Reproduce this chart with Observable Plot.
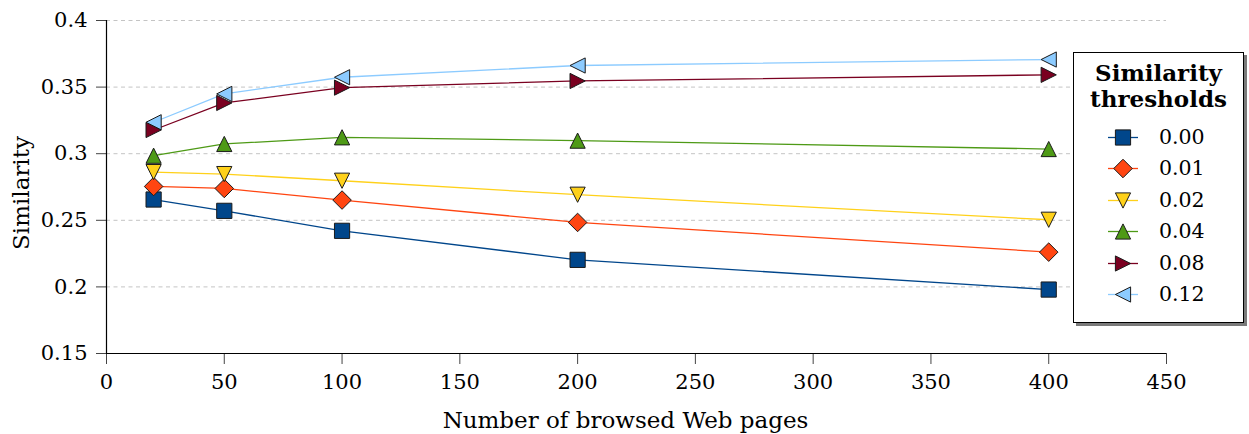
<!DOCTYPE html>
<html><head><meta charset="utf-8">
<script src="https://cdn.jsdelivr.net/npm/d3@7"></script>
<script src="https://cdn.jsdelivr.net/npm/@observablehq/plot@0.6"></script>
<style>
body{margin:0;background:#fff;}
#wrap{position:relative;width:1249px;height:434px;}
#legend{position:absolute;left:1073px;top:52px;width:171px;height:271px;box-sizing:border-box;border:1px solid #000;background:#fff;box-shadow:3px 3px 0 #7a7a7a;font-family:"DejaVu Serif",serif;}
#legend .title{font-weight:bold;font-size:23px;line-height:26px;text-align:center;margin-top:7px;}
#legend .row{position:absolute;left:0;height:31px;width:100%;}
#legend .row svg{position:absolute;left:32px;top:0;}
#legend .row span{position:absolute;left:85px;top:3px;font-size:20.5px;line-height:24px;}
</style></head><body><div id="wrap"></div>
<script>
const pages = [20, 50, 100, 200, 400];
const thresholds = ["0.00", "0.01", "0.02", "0.04", "0.08", "0.12"];
const sim000 = [0.2656, 0.2571, 0.2421, 0.2203, 0.1980];
const sim001 = [0.2754, 0.2739, 0.2652, 0.2484, 0.2261];
const sim002 = [0.2862, 0.2847, 0.2797, 0.2692, 0.2504];
const sim004 = [0.2985, 0.3073, 0.3123, 0.3098, 0.3035];
const sim008 = [0.3178, 0.3381, 0.3496, 0.3546, 0.3592];
const sim012 = [0.3236, 0.3449, 0.3574, 0.3662, 0.3707];
const xTicks = [0, 50, 100, 150, 200, 250, 300, 350, 400, 450];
const yTicks = [0.15, 0.2, 0.25, 0.3, 0.35, 0.4];
const colors = ["#00468b", "#ff4511", "#ffd11a", "#4e9a16", "#7a0020", "#8ccbff"];

const series = [sim000, sim001, sim002, sim004, sim008, sim012];
const data = [];
series.forEach((vals, i) => vals.forEach((v, j) => data.push({pages: pages[j], threshold: thresholds[i], similarity: v})));

const R = (size) => Math.sqrt(size / Math.PI);
const square = {draw(c, s){const r = R(s); c.moveTo(-r,-r); c.lineTo(r,-r); c.lineTo(r,r); c.lineTo(-r,r); c.closePath();}};
const diamond = {draw(c, s){const r = R(s)*1.22; c.moveTo(0,-r); c.lineTo(r,0); c.lineTo(0,r); c.lineTo(-r,0); c.closePath();}};
const triDown = {draw(c, s){const r = R(s); c.moveTo(-r,-r); c.lineTo(r,-r); c.lineTo(0,r); c.closePath();}};
const triUp = {draw(c, s){const r = R(s); c.moveTo(0,-r); c.lineTo(r,r); c.lineTo(-r,r); c.closePath();}};
const triRight = {draw(c, s){const r = R(s); c.moveTo(-r,-r); c.lineTo(r,0); c.lineTo(-r,r); c.closePath();}};
const triLeft = {draw(c, s){const r = R(s); c.moveTo(r,-r); c.lineTo(-r,0); c.lineTo(r,r); c.closePath();}};
const symbols = [square, diamond, triDown, triUp, triRight, triLeft];

const font = "DejaVu Serif";
const chart = Plot.plot({
  width: 1249, height: 434,
  marginLeft: 106, marginRight: 83, marginTop: 20, marginBottom: 81,
  style: {fontFamily: font, fontSize: "21px", background: "white", color: "black"},
  x: {domain: [0, 450]},
  y: {domain: [0.15, 0.4]},
  color: {domain: thresholds, range: colors},
  symbol: {domain: thresholds, range: symbols},
  marks: [
    Plot.ruleY(yTicks.slice(1), {stroke: "#c4c4c4", strokeDasharray: "4,3.5", strokeWidth: 1}),
    Plot.axisX({ticks: xTicks, tickFormat: d => String(d), tickSize: 11, tickPadding: 10, stroke: "#444", fill: "black", fontSize: 21, label: null}),
    Plot.axisY({ticks: yTicks, tickFormat: d => String(d), tickSize: 10, tickPadding: 9, stroke: "#444", fill: "black", fontSize: 21, label: null}),
    Plot.ruleX([0], {stroke: "black", strokeWidth: 1.2}),
    Plot.ruleY([0.15], {stroke: "black", strokeWidth: 1.2}),
    Plot.line(data, {x: "pages", y: "similarity", z: "threshold", stroke: "threshold", strokeWidth: 1.3}),
    Plot.dot(data, {x: "pages", y: "similarity", symbol: "threshold", fill: "threshold", stroke: "#1a1a1a", strokeWidth: 1, r: 7.6}),
    Plot.text(["Number of browsed Web pages"], {frameAnchor: "bottom", textAnchor: "middle", lineAnchor: "bottom", dy: 74, dx: -11, fontSize: 23, fill: "black"}),
    Plot.text(["Similarity"], {frameAnchor: "left", textAnchor: "middle", lineAnchor: "bottom", rotate: -90, dx: -78, dy: 6, fontSize: 23, fill: "black"})
  ]
});
const wrap = document.getElementById("wrap");
wrap.appendChild(chart);

// legend
const leg = document.createElement("div");
leg.id = "legend";
leg.innerHTML = '<div class="title">Similarity<br>thresholds</div>';
thresholds.forEach((t, i) => {
  const row = document.createElement("div");
  row.className = "row";
  row.style.top = (69 + i * 31.4) + "px";
  const p = d3.path();
  symbols[i].draw(p, Math.PI * 7.6 * 7.6);
  row.innerHTML = `<svg width="34" height="31" viewBox="-17 -15.5 34 31"><line x1="-15" x2="15" y1="0" y2="0" stroke="${colors[i]}" stroke-width="1.3"/><path d="${p.toString()}" fill="${colors[i]}" stroke="#1a1a1a" stroke-width="1"/></svg><span>${t}</span>`;
  leg.appendChild(row);
});
wrap.appendChild(leg);
</script>
</body></html>
